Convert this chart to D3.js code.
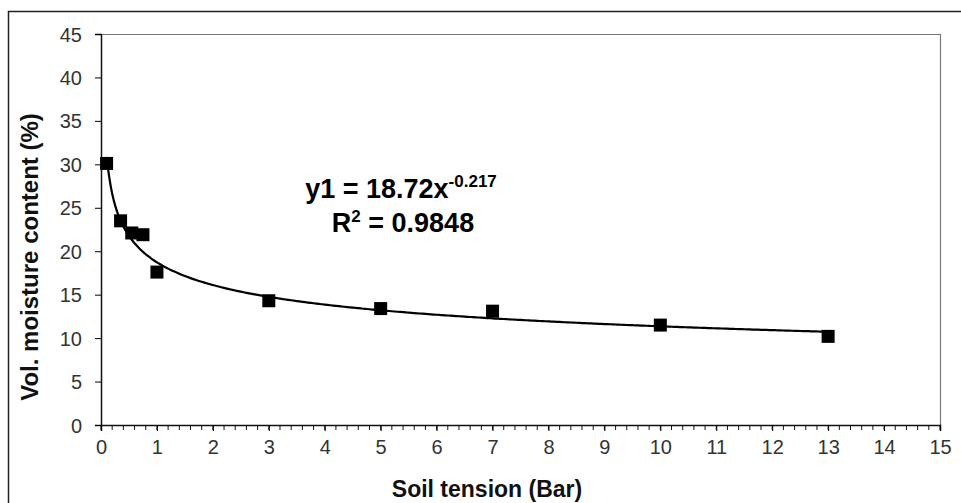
<!DOCTYPE html>
<html>
<head>
<meta charset="utf-8">
<script src="https://cdn.jsdelivr.net/npm/d3@7"></script>
<style>
  body { margin: 0; background: #fff; }
  svg { display: block; }
</style>
</head>
<body>
<div class="chart"></div>
<script>
// measured points: soil tension (Bar) vs vol. moisture (%)
var tension = [0.1, 0.35, 0.55, 0.75, 1, 3, 5, 7, 10, 13];
var moisture = [30.1, 23.5, 22.1, 21.9, 17.6, 14.3, 13.4, 13.1, 11.5, 10.2];

// power trendline
var coefA = 18.72;
var coefB = -0.217;
var rSquared = "0.9848";

var xTicks = d3.range(0, 16, 1);
var yTicks = d3.range(0, 50, 5);

var svgWidth = 961;
var svgHeight = 503;

var margin = { top: 34, right: 21, bottom: 78, left: 101 };
var width = svgWidth - margin.left - margin.right;
var height = svgHeight - margin.top - margin.bottom;

var font = "Arial, 'Liberation Sans', sans-serif";

var $svg = d3.select(".chart")
    .append("svg")
    .attr("width", svgWidth)
    .attr("height", svgHeight);

// outer frame of the figure
$svg.append("path")
    .attr("d", "M8.5,503 V11.5 H961")
    .attr("fill", "none")
    .attr("stroke", "#222")
    .attr("stroke-width", 1.5);

var $chartGroup = $svg.append("g")
    .attr("transform", `translate(${margin.left}, ${margin.top})`);

var xScale = d3.scaleLinear().domain([0, 15]).range([0, width]);
var yScale = d3.scaleLinear().domain([0, 45]).range([height, 0]);

// plot area border (top and right)
$chartGroup.append("path")
    .attr("d", `M0,0.5 H${width + 0.5} V${height}`)
    .attr("fill", "none")
    .attr("stroke", "#777")
    .attr("stroke-width", 1.2);

// minor ticks on x axis
$chartGroup.append("g")
    .selectAll("line")
    .data(d3.range(0, 15.01, 0.2))
    .enter()
    .append("line")
    .attr("x1", d => xScale(d))
    .attr("x2", d => xScale(d))
    .attr("y1", height)
    .attr("y2", height + 5)
    .attr("stroke", "#111")
    .attr("stroke-width", 1);

var xAxis = d3.axisBottom(xScale).tickValues(xTicks).tickSize(6).tickPadding(9).tickFormat(d3.format("d"));
var yAxis = d3.axisLeft(yScale).tickValues(yTicks).tickSize(6).tickPadding(13).tickFormat(d3.format("d"));

var $xAxis = $chartGroup.append("g")
    .attr("transform", `translate(0,${height})`)
    .call(xAxis);
$xAxis.select(".domain").attr("stroke", "#111").attr("stroke-width", 1.5);

var $yAxis = $chartGroup.append("g")
    .call(yAxis);
$yAxis.select(".domain").attr("stroke", "#111").attr("stroke-width", 1.5);
$yAxis.selectAll(".tick text").attr("dy", "0.35em");

$chartGroup.selectAll(".tick text")
    .style("font-family", font)
    .style("font-size", "20px")
    .attr("fill", "#333");

// trendline
var curveX = d3.range(0.1, 13.001, 0.05);
var line = d3.line()
    .x(d => xScale(d))
    .y(d => yScale(coefA * Math.pow(d, coefB)))
    .curve(d3.curveBasis);

$chartGroup.append("path")
    .datum(curveX)
    .attr("d", line)
    .attr("fill", "none")
    .attr("stroke", "#000")
    .attr("stroke-width", 2.2);

// markers
var ms = 13;
$chartGroup.selectAll(".point")
    .data(tension.map((d, i) => [d, moisture[i]]))
    .enter()
    .append("rect")
    .attr("class", "point")
    .attr("x", d => xScale(d[0]) - ms / 2)
    .attr("y", d => yScale(d[1]) - ms / 2)
    .attr("width", ms)
    .attr("height", ms)
    .attr("fill", "#000");

// equation text
var eq = $svg.append("text")
    .attr("x", 401)
    .attr("y", 198)
    .attr("text-anchor", "middle")
    .style("font-family", font)
    .style("font-weight", "bold")
    .style("font-size", "27px");
eq.append("tspan").text("y1 = " + coefA + "x");
eq.append("tspan").attr("dy", "-11").style("font-size", "17px").text(String(coefB));

var r2 = $svg.append("text")
    .attr("x", 403)
    .attr("y", 232)
    .attr("text-anchor", "middle")
    .style("font-family", font)
    .style("font-weight", "bold")
    .style("font-size", "27px");
r2.append("tspan").text("R");
r2.append("tspan").attr("dy", "-10").style("font-size", "17px").text("2");
r2.append("tspan").attr("dy", "10").text(" = " + rSquared);

// axis titles
$svg.append("text")
    .attr("x", 487)
    .attr("y", 497)
    .attr("text-anchor", "middle")
    .style("font-family", font)
    .style("font-weight", "bold")
    .style("font-size", "23px")
    .attr("fill", "#111")
    .text("Soil tension (Bar)");

$svg.append("text")
    .attr("transform", `translate(38,257) rotate(-90)`)
    .attr("text-anchor", "middle")
    .style("font-family", font)
    .style("font-weight", "bold")
    .style("font-size", "24px")
    .attr("fill", "#111")
    .text("Vol. moisture content (%)");
</script>
</body>
</html>
